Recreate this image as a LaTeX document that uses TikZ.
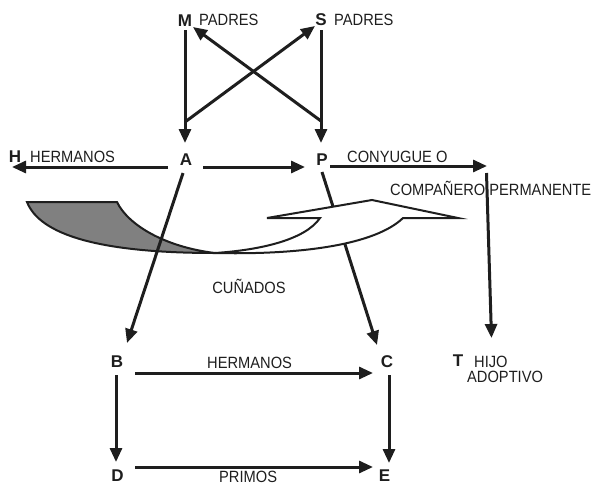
\documentclass[tikz,border=0pt]{standalone}
\usepackage{fontspec}
\setmainfont{Liberation Sans}[FakeStretch=0.9]
\newfontfamily\letterfont{Liberation Sans}
\usetikzlibrary{arrows.meta}
\definecolor{ink}{HTML}{1E1E1E}
\definecolor{ribgray}{HTML}{808080}
\begin{document}
\begin{tikzpicture}[x=1pt,y=-1pt,
  arr/.style={draw=ink, line width=3pt, -{Triangle[length=14pt,width=12pt]}},
  lbl/.style={font=\fontsize{16.3}{17}\selectfont, inner sep=0pt, anchor=base west, text=ink},
  letter/.style={font=\letterfont\bfseries\fontsize{17}{17}\selectfont, inner sep=0pt, anchor=base, text=ink},
  ribbon/.style={draw=ink, line width=2pt}]
\useasboundingbox (0,0) rectangle (594,485);

% nodes
\node[letter] (M) at (185,26) {M};
\node[lbl] (Mlab) at (199,25) {PADRES};
\node[letter] (S) at (321,25) {S};
\node[lbl] (Slab) at (334,25) {PADRES};
\node[letter] (H) at (15,162) {H};
\node[lbl] (Hlab) at (30,162) {HERMANOS};
\node[letter] (A) at (186,165) {A};
\node[letter] (P) at (322,165) {P};
\node[lbl] (Plab1) at (347,162) {CONYUGUE O};
\node[lbl] (Plab2) at (390,195) {COMPAÑERO PERMANENTE};
\node[lbl,anchor=base] (cun) at (249,293.5) {CUÑADOS};
\node[letter] (T) at (458,366) {T};
\node[lbl] (Tlab1) at (474,367) {HIJO};
\node[lbl] (Tlab2) at (467,382) {ADOPTIVO};
\node[letter] (B) at (117,367) {B};
\node[letter] (C) at (387,367) {C};
\node[lbl] (BClab) at (207,368) {HERMANOS};
\node[letter] (D) at (117.5,481.5) {D};
\node[letter] (E) at (384.5,481.5) {E};
\node[lbl] (DElab) at (219,482) {PRIMOS};

\coordinate (Mfoot) at (185,122);
\coordinate (Sfoot) at (321,121);
\coordinate (Pend) at (487,166);

% parents
\draw[arr] ([shift={(0,4)}]M.base) -- ([shift={(-1,-22)}]A.base);
\draw[arr] ([shift={(0,5)}]S.base) -- ([shift={(-1,-22)}]P.base);
\draw[arr] (Mfoot) -- ([shift={(-6,1)}]S.base);
\draw[arr] (Sfoot) -- ([shift={(8,1)}]M.base);

% horizontal row A / P
\draw[arr] ([shift={(-18,2)}]A.base) -- ([shift={(-3,5)}]H.base);
\draw[arr] ([shift={(17,2)}]A.base) -- ([shift={(-17,2)}]P.base);
\draw[arr] ([shift={(8,1)}]P.base) -- (Pend);
\draw[arr] ([shift={(-0.5,7)}]Pend) -- ([shift={(17.5,-29)}]Tlab1.base west);

% P -> C (behind ribbon)
\draw[arr] ([shift={(0,7)}]P.base) -- ([shift={(-10,-22)}]C.base);

% ribbon
\filldraw[ribbon, fill=ribgray] (27,202) -- (117,202)
  .. controls (128,225) and (165,247) .. (215,253)
  .. controls (100,253) and (40,235) .. cycle;
\filldraw[ribbon, fill=white] (215,253)
  .. controls (300,255) and (375,245) .. (403,218)
  -- (458,218) -- (372,200) -- (267,218) -- (320,218)
  .. controls (305,240) and (260,250) .. cycle;

% A -> B (over ribbon)
\draw[arr] ([shift={(-3,8)}]A.base) -- ([shift={(10,-24)}]B.base);

% lower square
\draw[arr] ([shift={(18,6)}]B.base) -- ([shift={(-14,6)}]C.base);
\draw[arr] ([shift={(-1,8)}]B.base) -- ([shift={(-1.5,-19.5)}]D.base);
\draw[arr] ([shift={(2,8)}]C.base) -- ([shift={(4.5,-18.5)}]E.base);
\draw[arr] ([shift={(17.5,-14.5)}]D.base) -- ([shift={(-11.5,-14.5)}]E.base);
\end{tikzpicture}
\end{document}
